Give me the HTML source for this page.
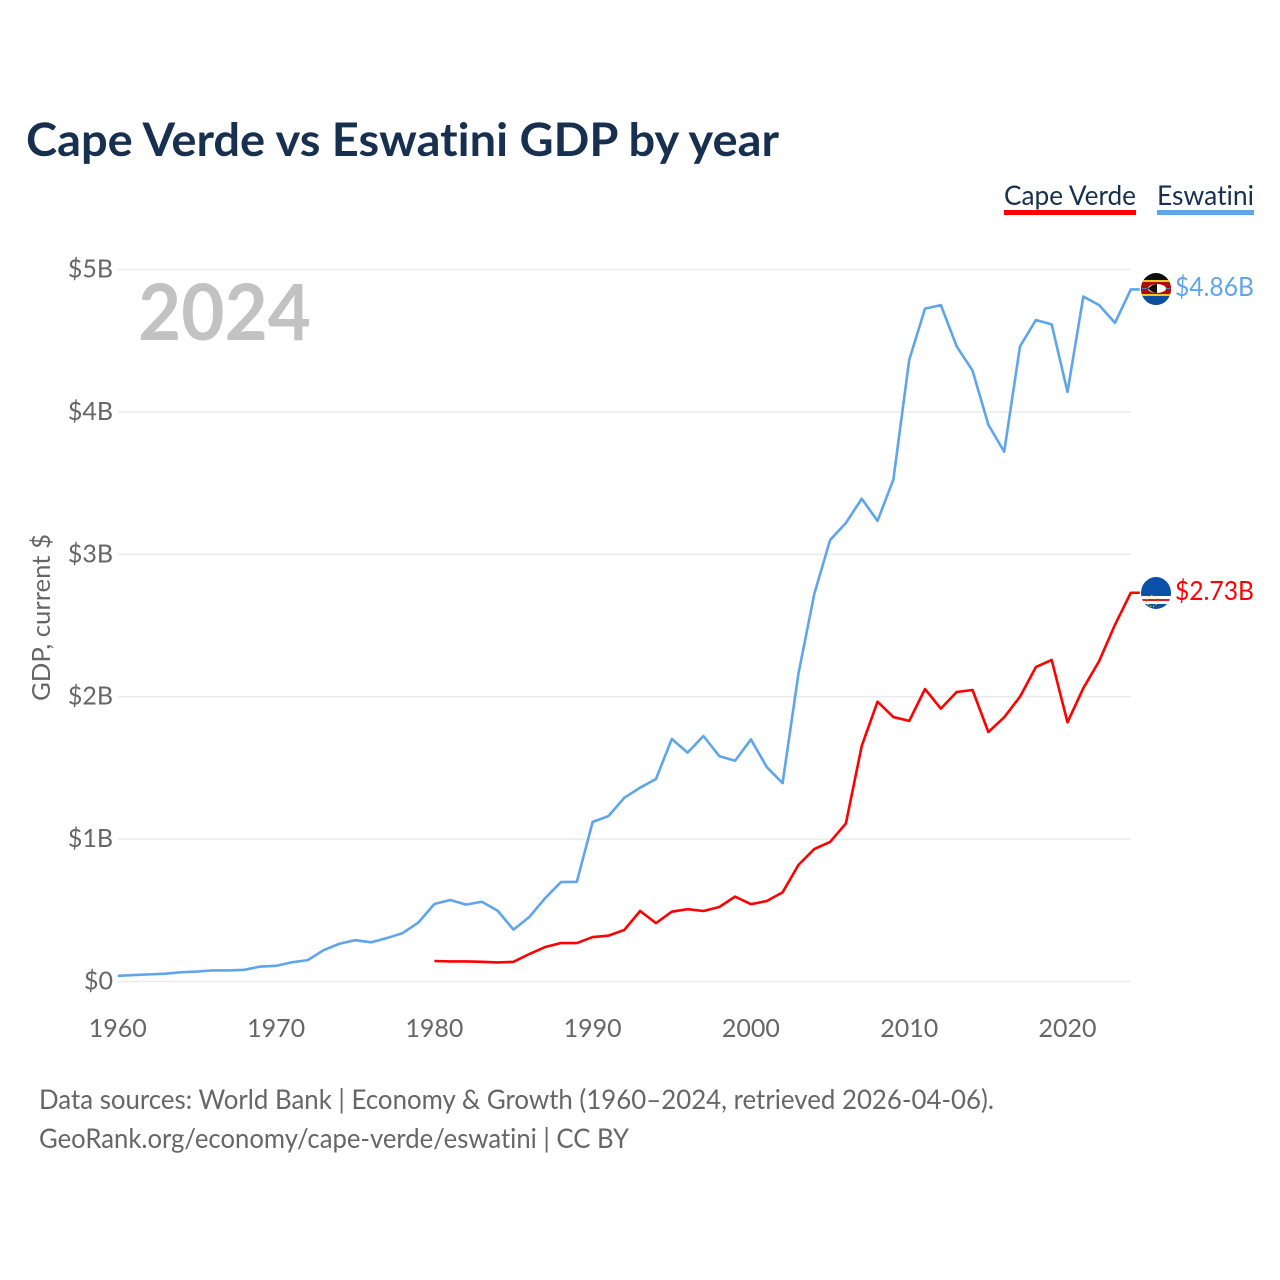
<!DOCTYPE html>
<html lang="en">
<head>
<meta charset="utf-8">
<title>Cape Verde vs Eswatini GDP by year</title>
<style>
html,body{margin:0;padding:0;background:#fff;width:1280px;height:1280px;overflow:hidden}
svg{display:block}
text{font-family:"Lato","Carlito","Liberation Sans",sans-serif;font-variant-ligatures:none}
</style>
</head>
<body>
<svg id="chart" xmlns="http://www.w3.org/2000/svg" width="1280" height="1280" viewBox="0 0 1280 1280">
  <defs>
    <clipPath id="clip-sz"><ellipse cx="1156" cy="289" rx="15" ry="16"/></clipPath>
    <clipPath id="clip-cv"><ellipse cx="1156" cy="593" rx="15" ry="16"/></clipPath>
  </defs>
  <rect width="1280" height="1280" fill="#fff"/>
  <text x="26" y="156" font-size="46" font-weight="700" fill="#18304f" textLength="753" lengthAdjust="spacingAndGlyphs">Cape Verde vs Eswatini GDP by year</text>

  <g>
    <text x="1004" y="205" font-size="27" fill="#18304f" textLength="132" lengthAdjust="spacingAndGlyphs">Cape Verde</text>
    <rect x="1004" y="210" width="132" height="5" fill="#ff0000"/>
  </g>
  <g>
    <text x="1157" y="205" font-size="27" fill="#18304f" textLength="97" lengthAdjust="spacingAndGlyphs">Eswatini</text>
    <rect x="1157" y="210" width="97" height="5" fill="#5ea5ec"/>
  </g>

  <text x="138" y="340" font-size="78" font-weight="700" fill="#c2c2c2" textLength="173" lengthAdjust="spacingAndGlyphs">2024</text>
  <text transform="translate(50,701) rotate(-90)" font-size="25" fill="#666" textLength="167" lengthAdjust="spacingAndGlyphs">GDP, current $</text>

  <g id="grid"></g>
  <g id="yticks"></g>
  <g id="xticks"></g>
  <g id="series"></g>

  <g clip-path="url(#clip-sz)">
    <rect x="1140" y="272" width="32" height="34" fill="#0d0d0d"/>
    <rect x="1140" y="280" width="32" height="2" fill="#f4c51c"/>
    <rect x="1140" y="282" width="32" height="12" fill="#b10c0c"/>
    <rect x="1140" y="294" width="32" height="2" fill="#f4c51c"/>
    <rect x="1140" y="296" width="32" height="10" fill="#0b4ea2"/>
    <ellipse cx="1157" cy="288.5" rx="9" ry="4.5" fill="#fff"/>
    <path d="M1148 288.5 Q1152.5 284 1157 284 L1157 293 Q1152.5 293 1148 288.5Z" fill="#111"/>
    <rect x="1142" y="288" width="5" height="1" fill="#4a7fc0"/>
    <rect x="1166" y="288" width="4" height="1" fill="#4a7fc0"/>
  </g>
  <g clip-path="url(#clip-cv)">
    <rect x="1140" y="576" width="32" height="34" fill="#0a4fa8"/>
    <rect x="1140" y="596" width="32" height="8" fill="#fff"/>
    <rect x="1140" y="599" width="32" height="2" fill="#cf2027"/>
    <circle cx="1152" cy="601" r="5.5" fill="none" stroke="#e8c840" stroke-width="1.3" stroke-dasharray="1.3 1.8"/>
  </g>

  <text x="1175" y="296" font-size="26" fill="#5ea5ec" textLength="79" lengthAdjust="spacingAndGlyphs">$4.86B</text>
  <text x="1175" y="600" font-size="26" fill="#ff0000" textLength="79" lengthAdjust="spacingAndGlyphs">$2.73B</text>

  <text x="39" y="1109" font-size="27" fill="#666" textLength="955" lengthAdjust="spacingAndGlyphs">Data sources: World Bank | Economy &amp; Growth (1960–2024, retrieved 2026-04-06).</text>
  <text x="39" y="1148" font-size="27" fill="#666" textLength="590" lengthAdjust="spacingAndGlyphs">GeoRank.org/economy/cape-verde/eswatini | CC BY</text>
</svg>
<script>
const eswatiniStartYear = 1960;
const eswatiniValues = [0.04,0.045,0.05,0.055,0.065,0.07,0.078,0.078,0.082,0.105,0.11,0.135,0.15,0.22,0.265,0.29,0.275,0.305,0.34,0.415,0.544,0.572,0.54,0.56,0.497,0.364,0.453,0.586,0.698,0.70,1.12,1.162,1.29,1.361,1.422,1.703,1.607,1.724,1.583,1.55,1.70,1.506,1.393,2.16,2.72,3.10,3.22,3.39,3.235,3.525,4.365,4.725,4.75,4.46,4.29,3.91,3.72,4.46,4.645,4.615,4.14,4.81,4.75,4.625,4.86];
const capeVerdeStartYear = 1980;
const capeVerdeValues = [0.144,0.141,0.141,0.138,0.134,0.138,0.193,0.242,0.27,0.27,0.312,0.322,0.362,0.495,0.41,0.49,0.508,0.495,0.523,0.596,0.543,0.565,0.626,0.818,0.93,0.98,1.11,1.654,1.965,1.857,1.83,2.054,1.916,2.033,2.047,1.752,1.855,2.0,2.208,2.258,1.82,2.06,2.25,2.505,2.73];
const yTickValues = [0,1,2,3,4,5];
const yTickLabels = ["$0","$1B","$2B","$3B","$4B","$5B"];
const xTickYears = [1960,1970,1980,1990,2000,2010,2020];
const lastYear = 2024;

const NS = "http://www.w3.org/2000/svg";
function xScale(year){ return 117.8 + (year - 1960) * (1130.8 - 117.8) / (2024 - 1960); }
function yScale(v){ return 981.5 - v * 142.4; }
function make(tag, attrs, parent, content){
  const el = document.createElementNS(NS, tag);
  for (const k in attrs) el.setAttribute(k, attrs[k]);
  if (content !== undefined) el.textContent = content;
  parent.appendChild(el);
  return el;
}
const grid = document.getElementById("grid");
const yticks = document.getElementById("yticks");
const xticks = document.getElementById("xticks");
const series = document.getElementById("series");

yTickValues.forEach(function(v, i){
  const line = make("line", {x1:118, x2:1131, y1:yScale(v), y2:yScale(v), stroke:"#ebebeb", "stroke-width":1.5}, grid);
  
  
  const label = make("text", {x:113, y:yScale(v)+8, "text-anchor":"end", "font-size":25, fill:"#666"}, yticks, yTickLabels[i]);
  
  
});
xTickYears.forEach(function(yr){
  const label = make("text", {x:xScale(yr), y:1037, "text-anchor":"middle", "font-size":25, fill:"#666"}, xticks, String(yr));
  
  
});
function linePath(values, startYear){
  const pts = values.map(function(v, i){ return xScale(startYear + i).toFixed(2) + "," + yScale(v).toFixed(2); });
  const last = values[values.length - 1];
  pts.push((xScale(lastYear) + 9).toFixed(2) + "," + yScale(last).toFixed(2));
  return "M" + pts.join("L");
}
const eswatiniLine = make("path", {d:linePath(eswatiniValues, eswatiniStartYear), fill:"none", stroke:"#5ea5ec", "stroke-width":2.6, "stroke-linejoin":"round"}, series);


const capeVerdeLine = make("path", {d:linePath(capeVerdeValues, capeVerdeStartYear), fill:"none", stroke:"#ff0000", "stroke-width":2.6, "stroke-linejoin":"round"}, series);


</script>
</body>
</html>
